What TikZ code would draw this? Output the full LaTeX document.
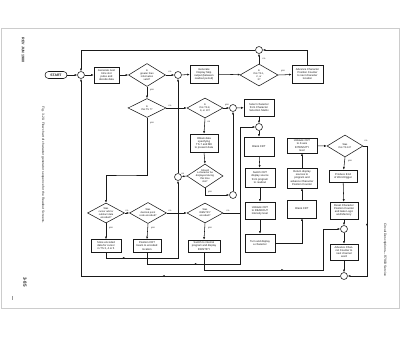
\documentclass[tikz,border=0pt]{standalone}
\usepackage{fontspec}
\setmainfont{Liberation Sans}
\usetikzlibrary{shapes.geometric,arrows.meta,decorations.markings}
\tikzset{
  every node/.style={font=\fontsize{2.7}{3.1}\selectfont, text=black!90},
  fbox/.style={draw=black!90, rectangle, align=center, inner sep=0.2pt, line width=0.55pt},
  fdia/.style={draw=black!90, diamond, inner sep=0pt, line width=0.55pt},
  dtxt/.style={align=center, inner sep=0pt, font=\fontsize{2.5}{2.9}\selectfont},
  jn/.style={draw=black!90, circle, minimum size=7pt, inner sep=0pt, fill=white, line width=0.55pt},
  lbl/.style={font=\fontsize{2.3}{2.6}\selectfont, inner sep=0.3pt},
  conn/.style={draw=black!90, line width=0.55pt, -{Latex[length=2.5pt,width=2.1pt]}},
  plain/.style={draw=black!90, line width=0.55pt},
  amid/.style={postaction={decorate}, decoration={markings, mark=at position #1 with {\arrow{Latex[length=2.5pt,width=2.1pt]}}}},
  side/.style={rotate=-90, inner sep=0pt, text=black!85}
}
\begin{document}
\begin{tikzpicture}[x=1pt,y=-1pt]
\useasboundingbox (0,0) rectangle (400,339);
\fill[white] (0,0) rectangle (400,339);
\draw[black!20, line width=0.8pt] (1,28) rectangle (399,308);

% page texts
\node[side, font=\fontsize{3.6}{4}\selectfont\bfseries] (rev) at (23,50) {REV JUN 1980};
\node[side, font=\fontsize{3.3}{4}\selectfont] (cap) at (43,165) {Fig. 3-20. Flow chart of character generator sequence for the Readout Screens.};
\node[side, font=\fontsize{4.6}{5}\selectfont\bfseries] (pg) at (25,282) {3-85};
\node[side, font=\fontsize{3.3}{4}\selectfont] (hdr) at (385,250) {Circuit Descriptions---R7903 Service};
\draw[black!40, line width=0.5pt] (12,296) -- (12,300);

% row 1
\node[fbox, rounded corners=3.5pt, minimum width=22pt, minimum height=7pt, font=\fontsize{3.4}{4}\selectfont\bfseries] (start) at (56,75) {START};
\node[jn] (j1) at (81,75) {};
\node[fbox, minimum width=25pt, minimum height=16pt] (gen) at (106.5,75) {Generate next\\time slot\\pulse and\\decode data};
\node[fdia, minimum width=37pt, minimum height=23pt] (d1) at (147,75) {};
\node[dtxt] (d1t) at (d1) {Is\\greater than\\information\\valid?};
\node[jn] (j2) at (178,75) {};
\node[fbox, minimum width=28pt, minimum height=18pt] (skip) at (204,74) {Generate\\Display Skip\\output (between\\readout period)};
\node[fdia, minimum width=38pt, minimum height=22pt] (dts) at (259,75) {};
\node[dtxt] (dtst) at (dts) {Is\\this TS 1,\\2, or\\3?};
\node[fbox, minimum width=31pt, minimum height=18pt] (adv1) at (307.5,74) {Advance Character\\Position Counter\\to next character\\location};
\node[jn] (j3) at (259,50) {};

% row 2
\node[fdia, minimum width=38pt, minimum height=19pt] (d2) at (147,108) {};
\node[dtxt] (d2t) at (d2) {Is\\this TS 7?};
\node[fdia, minimum width=36pt, minimum height=20pt] (d3) at (205,108) {};
\node[dtxt] (d3t) at (d3) {Is\\this TS 8,\\9, or 10?};
\node[jn] (j4) at (233,108) {};
\node[fbox, minimum width=30pt, minimum height=17pt] (sel) at (259,107.5) {Select character\\from Character\\Selection Matrix};
\node[jn] (j5) at (259,127) {};

% middle column
\node[fbox, minimum width=28pt, minimum height=18pt] (obt) at (204,143) {Obtain data\\specifying\\TS-7 and M8\\to present data};
\node[fdia, minimum width=36pt, minimum height=24pt] (d4) at (205,176) {};
\node[dtxt] (d4t) at (d4) {Should\\a character be\\displayed during\\this time\\slot?};
\node[jn] (j6) at (178,177) {};
\node[jn] (j7) at (233,195) {};

% lower row
\node[fdia, minimum width=37pt, minimum height=20pt] (dc) at (106,213) {};
\node[dtxt] (dct) at (dc) {Was\\cursor add or\\subtract data\\encoded?};
\node[fdia, minimum width=37pt, minimum height=21pt] (dp) at (148,213) {};
\node[dtxt] (dpt) at (dp) {Was\\decimal point\\code encoded?};
\node[fdia, minimum width=36pt, minimum height=20pt] (d5) at (205,213) {};
\node[dtxt] (d5t) at (d5) {Was\\IDENTIFY\\encoded?};
\node[fbox, minimum width=30pt, minimum height=13pt] (store) at (106,246) {Store encoded\\data for cursor\\in TS 3, 4 or 5};
\node[fbox, minimum width=28pt, minimum height=13pt] (pos) at (147,246) {Position CRT\\beam to encoded\\location};
\node[fbox, minimum width=32pt, minimum height=12pt] (ident) at (204,246) {Switch to internal\\program and display\\IDENTIFY};

% column 2
\node[fbox, minimum width=30pt, minimum height=19pt] (blank1) at (259,146.5) {Blank CRT};
\node[fbox, minimum width=30pt, minimum height=19pt] (swc) at (260,177.5) {Switch CRT\\display source\\from program\\to readout};
\node[fbox, minimum width=30pt, minimum height=17pt] (unb1) at (260,210.5) {Unblank CRT\\to READOUT\\intensity level};
\node[fbox, minimum width=30pt, minimum height=18pt] (turn) at (260,243) {Turn and display\\a character};

% column 3
\node[fbox, minimum width=29pt, minimum height=18pt] (blank2) at (302,209) {Blank CRT};
\node[fbox, minimum width=30pt, minimum height=20pt] (ret) at (302,178) {Return display\\sources to\\program and\\advance Character\\Position Counter};
\node[fbox, minimum width=30pt, minimum height=15pt] (unb2) at (302,145.5) {Unblank CRT\\to Z-axis\\INTENSITY\\level};

% column 4
\node[fdia, minimum width=36pt, minimum height=22pt] (d10) at (345,146) {};
\node[dtxt] (d10t) at (d10) {Was\\this TS 10?};
\node[fbox, minimum width=28pt, minimum height=12pt] (eow) at (343,176) {Produce End\\of Word trigger};
\node[fbox, minimum width=28pt, minimum height=17pt] (reset) at (344,210.5) {Reset Character\\Position Counter\\and Gate Logic\\and Memory};
\node[jn] (j8) at (344,229) {};
\node[fbox, minimum width=28pt, minimum height=16pt] (adv2) at (344,252) {Advance Chan-\\nel Counter to\\next channel\\word};
\node[jn] (j9) at (344,276) {};

% helper coordinates
\coordinate (c21) at (126,175);
\coordinate (c27) at (178,258);
\coordinate (c28) at (240,264);
\coordinate (c29) at (240,213);
\coordinate (c37) at (367,276);
\coordinate (c38) at (323,270);

% connectors row 1
\draw[conn] (start) -- (j1);
\draw[conn] (j1) -- (gen);
\draw[conn] (gen) -- (d1);
\draw[conn] (d1.east) -- (j2);
\draw[conn] (j2) -- (skip);
\draw[conn] (skip) -- (dts);
\draw[conn] (dts.east) -- (adv1);
\draw[conn] (dts.north) -- (j3);
\draw[conn] (adv1.north) |- (j3.east);
\draw[conn] (j3.west) -| (j1.north);

% row 2
\draw[conn] (d1.south) -- (d2.north);
\draw[conn] (d2.east) -- (d3.west);
\draw[conn] (d3.east) -- (j4);
\draw[conn] (j4) -- (sel);
\draw[conn] (sel) -- (j5);
\draw[conn] (d3.south) -- (obt.north);
\draw[conn] (obt.south) -- (d4.north);
\draw[conn] (d4.west) -- (j6);
\draw[conn] (j6.north) -- (j2.south);
\draw[conn] (d4.south) |- (j7.west);
\draw[conn] (j7.north) -- (j4.south);

% lower
\draw[conn] (d2.south) |- (c21) -| (dc.north);
\draw[conn] (dc.east) -- (dp.west);
\draw[conn] (dp.east) -- (d5.west);
\draw[conn] (dc.south) -- (store.north);
\draw[conn] (dp.south) -- (pos.north);
\draw[conn] (d5.south) -- (ident.north);
\draw[conn, amid=0.16] (store.south) |- (c27) -- (j6.south);
\draw[conn, amid=0.24] (pos.south) |- (c28) |- (j5.west);
\draw[plain] (d5.east) -- (c29);

% column 2 and 3
\draw[conn] (j5) -- (blank1);
\draw[conn] (blank1) -- (swc);
\draw[conn] (swc) -- (unb1);
\draw[conn] (unb1) -- (turn);
\draw[conn] (turn.east) -| (blank2.south);
\draw[conn] (blank2) -- (ret);
\draw[conn] (ret) -- (unb2);
\draw[conn] (unb2) -- (d10.west);

% column 4
\draw[conn] (d10.south) -- (eow);
\draw[conn] (eow) -- (reset);
\draw[conn] (reset) -- (j8);
\draw[conn] (j8) -- (adv2);
\draw[conn] (adv2) -- (j9);
\draw[conn, amid=0.55] (d10.east) -| (c37) -- (j9.east);
\draw[conn, amid=0.5] (ident.south) |- (c38) |- (j8.west);
\draw[conn, amid=0.39] (j9.west) -| (j1.south);

% yes / no labels
\node[lbl] (l1) at (170,72) {no};
\node[lbl] (l2) at (283,71.5) {yes};
\node[lbl] (l3) at (264,59) {no};
\node[lbl] (l4) at (152,90) {yes};
\node[lbl] (l5) at (170,105.5) {no};
\node[lbl] (l6) at (152,123) {yes};
\node[lbl] (l7) at (227,105.5) {yes};
\node[lbl] (l8) at (209,122) {no};
\node[lbl] (l9) at (183,174) {no};
\node[lbl] (l10) at (210,192) {yes};
\node[lbl] (l11) at (127,210.5) {no};
\node[lbl] (l12) at (111,228) {yes};
\node[lbl] (l13) at (170,210.5) {no};
\node[lbl] (l14) at (153,228) {yes};
\node[lbl] (l15) at (228,210.5) {no};
\node[lbl] (l16) at (210,228) {yes};
\node[lbl] (l17) at (366,141) {no};
\node[lbl] (l18) at (350,161) {yes};
\end{tikzpicture}
\end{document}
